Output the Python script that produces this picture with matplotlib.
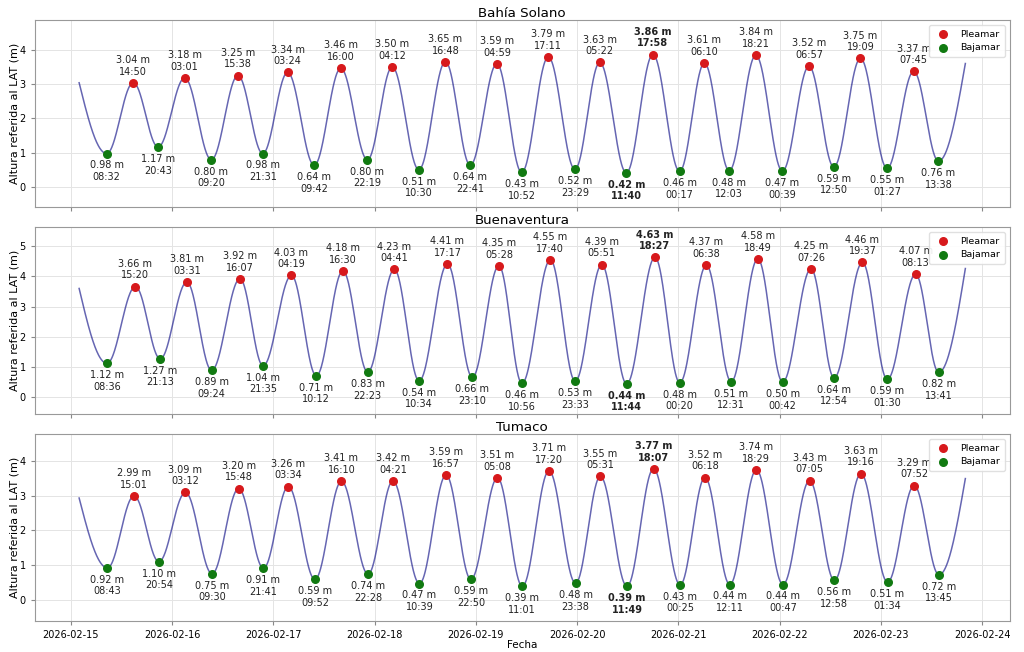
"""Tide curves with high/low water marks for three Pacific stations."""

import matplotlib

matplotlib.use("Agg")
import matplotlib.dates as mdates
import matplotlib.pyplot as plt
import numpy as np

STATIONS = ["Bahía Solano", "Buenaventura", "Tumaco"]

# Bahía Solano
SOLANO_HIGH_TIMES = [
    "2026-02-15 14:50", "2026-02-16 03:01", "2026-02-16 15:38", "2026-02-17 03:24",
    "2026-02-17 16:00", "2026-02-18 04:12", "2026-02-18 16:48", "2026-02-19 04:59",
    "2026-02-19 17:11", "2026-02-20 05:22", "2026-02-20 17:58", "2026-02-21 06:10",
    "2026-02-21 18:21", "2026-02-22 06:57", "2026-02-22 19:09", "2026-02-23 07:45",
]
SOLANO_HIGH_M = [3.04, 3.18, 3.25, 3.34, 3.46, 3.50, 3.65, 3.59,
                 3.79, 3.63, 3.86, 3.61, 3.84, 3.52, 3.75, 3.37]
SOLANO_LOW_TIMES = [
    "2026-02-15 08:32", "2026-02-15 20:43", "2026-02-16 09:20", "2026-02-16 21:31",
    "2026-02-17 09:42", "2026-02-17 22:19", "2026-02-18 10:30", "2026-02-18 22:41",
    "2026-02-19 10:52", "2026-02-19 23:29", "2026-02-20 11:40", "2026-02-21 00:17",
    "2026-02-21 12:03", "2026-02-22 00:39", "2026-02-22 12:50", "2026-02-23 01:27",
    "2026-02-23 13:38",
]
SOLANO_LOW_M = [0.98, 1.17, 0.80, 0.98, 0.64, 0.80, 0.51, 0.64, 0.43,
                0.52, 0.42, 0.46, 0.48, 0.47, 0.59, 0.55, 0.76]

# Buenaventura
BUENA_HIGH_TIMES = [
    "2026-02-15 15:20", "2026-02-16 03:31", "2026-02-16 16:07", "2026-02-17 04:19",
    "2026-02-17 16:30", "2026-02-18 04:41", "2026-02-18 17:17", "2026-02-19 05:28",
    "2026-02-19 17:40", "2026-02-20 05:51", "2026-02-20 18:27", "2026-02-21 06:38",
    "2026-02-21 18:49", "2026-02-22 07:26", "2026-02-22 19:37", "2026-02-23 08:13",
]
BUENA_HIGH_M = [3.66, 3.81, 3.92, 4.03, 4.18, 4.23, 4.41, 4.35,
                4.55, 4.39, 4.63, 4.37, 4.58, 4.25, 4.46, 4.07]
BUENA_LOW_TIMES = [
    "2026-02-15 08:36", "2026-02-15 21:13", "2026-02-16 09:24", "2026-02-16 21:35",
    "2026-02-17 10:12", "2026-02-17 22:23", "2026-02-18 10:34", "2026-02-18 23:10",
    "2026-02-19 10:56", "2026-02-19 23:33", "2026-02-20 11:44", "2026-02-21 00:20",
    "2026-02-21 12:31", "2026-02-22 00:42", "2026-02-22 12:54", "2026-02-23 01:30",
    "2026-02-23 13:41",
]
BUENA_LOW_M = [1.12, 1.27, 0.89, 1.04, 0.71, 0.83, 0.54, 0.66, 0.46,
               0.53, 0.44, 0.48, 0.51, 0.50, 0.64, 0.59, 0.82]

# Tumaco
TUMACO_HIGH_TIMES = [
    "2026-02-15 15:01", "2026-02-16 03:12", "2026-02-16 15:48", "2026-02-17 03:34",
    "2026-02-17 16:10", "2026-02-18 04:21", "2026-02-18 16:57", "2026-02-19 05:08",
    "2026-02-19 17:20", "2026-02-20 05:31", "2026-02-20 18:07", "2026-02-21 06:18",
    "2026-02-21 18:29", "2026-02-22 07:05", "2026-02-22 19:16", "2026-02-23 07:52",
]
TUMACO_HIGH_M = [2.99, 3.09, 3.20, 3.26, 3.41, 3.42, 3.59, 3.51,
                 3.71, 3.55, 3.77, 3.52, 3.74, 3.43, 3.63, 3.29]
TUMACO_LOW_TIMES = [
    "2026-02-15 08:43", "2026-02-15 20:54", "2026-02-16 09:30", "2026-02-16 21:41",
    "2026-02-17 09:52", "2026-02-17 22:28", "2026-02-18 10:39", "2026-02-18 22:50",
    "2026-02-19 11:01", "2026-02-19 23:38", "2026-02-20 11:49", "2026-02-21 00:25",
    "2026-02-21 12:11", "2026-02-22 00:47", "2026-02-22 12:58", "2026-02-23 01:34",
    "2026-02-23 13:45",
]
TUMACO_LOW_M = [0.92, 1.10, 0.75, 0.91, 0.59, 0.74, 0.47, 0.59, 0.39,
                0.48, 0.39, 0.43, 0.44, 0.44, 0.56, 0.51, 0.72]

# curve window and the level read at its two ends
CURVE_START = "2026-02-15 02:00"
CURVE_END = "2026-02-23 20:00"
START_M = [3.04, 3.60, 2.93]
END_M = [3.60, 4.26, 3.49]

HIGHS = [
    (SOLANO_HIGH_TIMES, SOLANO_HIGH_M),
    (BUENA_HIGH_TIMES, BUENA_HIGH_M),
    (TUMACO_HIGH_TIMES, TUMACO_HIGH_M),
]
LOWS = [
    (SOLANO_LOW_TIMES, SOLANO_LOW_M),
    (BUENA_LOW_TIMES, BUENA_LOW_M),
    (TUMACO_LOW_TIMES, TUMACO_LOW_M),
]

HIGH_COLOR = "#d7191c"
LOW_COLOR = "#117a11"
LINE_COLOR = "navy"


def to_num(times):
    return mdates.date2num(np.array(times, dtype="datetime64[m]"))


def tide_curve(t0, v0, t_ev, v_ev, t1, v1, n=80):
    """Smooth curve through the extremes (cosine between turning points)."""
    s = np.linspace(0, 1, n)
    xs = [t0 + s * (t_ev[0] - t0)]
    ys = [v_ev[0] + (v0 - v_ev[0]) * (1 - np.sin(np.pi / 2 * s))]
    for a, b, va, vb in zip(t_ev[:-1], t_ev[1:], v_ev[:-1], v_ev[1:]):
        xs.append(a + s * (b - a))
        ys.append(va + (vb - va) * (1 - np.cos(np.pi * s)) / 2)
    xs.append(t_ev[-1] + s * (t1 - t_ev[-1]))
    ys.append(v_ev[-1] + (v1 - v_ev[-1]) * (1 - np.cos(np.pi / 2 * s)))
    return np.concatenate(xs), np.concatenate(ys)


def draw_station(ax, idx):
    ht, hv = HIGHS[idx]
    lt, lv = LOWS[idx]
    ht_n, hv = to_num(ht), np.array(hv)
    lt_n, lv = to_num(lt), np.array(lv)

    t_ev = np.concatenate([ht_n, lt_n])
    v_ev = np.concatenate([hv, lv])
    order = np.argsort(t_ev)
    t0 = to_num([CURVE_START])[0]
    t1 = to_num([CURVE_END])[0]
    cx, cy = tide_curve(t0, START_M[idx], t_ev[order], v_ev[order], t1, END_M[idx])
    ax.plot(cx, cy, color=LINE_COLOR, alpha=0.6, lw=1.1, zorder=2)

    ax.scatter(ht_n, hv, s=30, color=HIGH_COLOR, zorder=3, label="Pleamar")
    ax.scatter(lt_n, lv, s=30, color=LOW_COLOR, zorder=3, label="Bajamar")

    i_max = int(np.argmax(hv))
    i_min = int(np.where(lv == lv.min())[0][-1])
    for i, (t, v) in enumerate(zip(ht_n, hv)):
        ax.annotate(f"{v:.2f} m\n{ht[i][-5:]}", (t, v), xytext=(0, 4.5),
                    textcoords="offset points", ha="center", va="bottom",
                    fontsize=7, color="#222222",
                    fontweight="bold" if i == i_max else "normal")
    for i, (t, v) in enumerate(zip(lt_n, lv)):
        ax.annotate(f"{v:.2f} m\n{lt[i][-5:]}", (t, v), xytext=(0, -5),
                    textcoords="offset points", ha="center", va="top",
                    fontsize=7, color="#222222",
                    fontweight="bold" if i == i_min else "normal")

    ax.set_ylim(min(lv) - 1.0, max(hv) + 1.0)
    ax.set_title(STATIONS[idx], fontsize=9.6, pad=1)
    ax.set_ylabel("Altura referida al LAT (m)", fontsize=8, labelpad=0)
    ax.grid(True, color="#e4e4e4", lw=0.7)
    ax.tick_params(labelsize=7, length=3, color="#888888")
    for sp in ax.spines.values():
        sp.set_color("#999999")
        sp.set_linewidth(0.8)
    ax.legend(loc="upper right", fontsize=6.8, framealpha=0.9, edgecolor="#dddddd",
              handletextpad=0.8, borderpad=0.5)


def main():
    fig, axes = plt.subplots(3, 1, figsize=(10.24, 6.52), dpi=100, sharex=True)
    fig.subplots_adjust(left=0.034, right=0.986, top=0.969, bottom=0.0475, hspace=0.107)
    for idx, ax in enumerate(axes):
        draw_station(ax, idx)

    axes[-1].xaxis.set_major_locator(mdates.DayLocator())
    axes[-1].xaxis.set_major_formatter(mdates.DateFormatter("%Y-%m-%d"))
    axes[-1].set_xlabel("Fecha", fontsize=7.5, labelpad=0)

    fig.savefig("out.png", dpi=100)


if __name__ == "__main__":
    main()
